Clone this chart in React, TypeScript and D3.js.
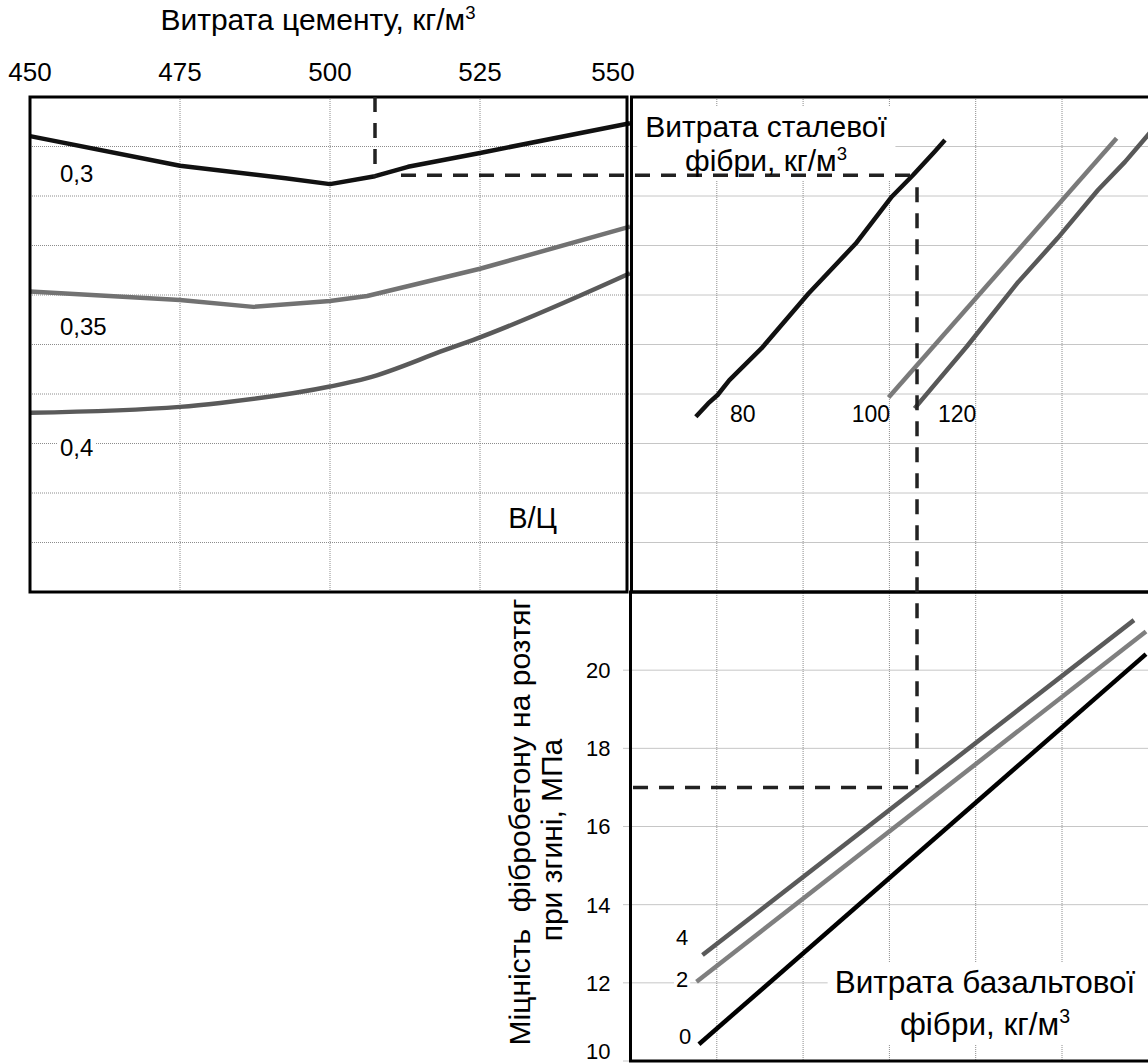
import { useEffect, useRef } from "react";
import * as d3 from "d3";

const W = 1148;
const H = 1064;
const font = "'Liberation Sans', Arial, Helvetica, sans-serif";

// top left: cement consumption, curves for W/C ratio
const cementTicks = [450, 475, 500, 525, 550];
const levelGrid = [1, 2, 3, 4, 5, 6, 7, 8, 9];
const wcNames = ["0,3", "0,35", "0,4"];
const wc030 = [[450, 9.21], [475, 8.61], [492.6, 8.36], [500, 8.24], [507.5, 8.4], [513, 8.59], [525, 8.87], [550, 9.47]];
const wc035 = [[450, 6.07], [475, 5.9], [487.2, 5.76], [500, 5.88], [506.2, 5.98], [525, 6.53], [550, 7.38]];
const wc040 = [[450, 3.62], [475, 3.74], [481.7, 3.82], [500, 4.15], [506.2, 4.32], [519.2, 4.89], [523.8, 5.09], [550, 6.44]];
const wcLabelAt = [[455, 8.29], [455, 5.19], [455, 2.74]];

// top right: steel fibre consumption
const mixGrid = [1, 2, 3, 4, 5];
const steelNames = ["80", "100", "120"];
const steel80 = [[0.757, 3.54], [0.9, 3.81], [1.009, 3.98], [1.146, 4.28], [1.517, 4.92], [2.063, 6.03], [2.61, 7.04], [3.03, 7.99], [3.272, 8.42], [3.526, 8.9], [3.644, 9.13]];
const steel100 = [[2.99, 3.93], [5.633, 9.166]];
const steel120 = [[3.292, 3.71], [3.897, 4.96], [4.482, 6.24], [4.95, 7.15], [5.417, 8.12], [5.73, 8.69], [6.02, 9.28]];
const steelLabelAt = [[1.153, 3.43], [2.563, 3.43], [3.563, 3.43]];

// bottom right: basalt fibre consumption, strength
const strengthTicks = [10, 12, 14, 16, 18, 20];
const basaltNames = ["4", "2", "0"];
const basalt4 = [[0.834, 12.71], [5.834, 21.28]];
const basalt2 = [[0.765, 12.03], [5.973, 20.99]];
const basalt0 = [[0.793, 10.43], [5.973, 20.41]];
const basaltLabelAt = [[0.527, 12.97], [0.527, 11.89], [0.562, 10.43]];

// worked example (dashed)
const selCement = 507.5;
const selLevel = 8.42;
const selMixTop = 3.27;
const selMix = 3.32;
const selStrength = 17;

const App = () => {
  const svgRef = useRef<SVGSVGElement | null>(null);

  useEffect(() => {
    const svg = d3.select(svgRef.current);
    svg.selectAll("*").remove();

    const xC = d3.scaleLinear().domain([450, 550]).range([30, 630]);
    const yL = d3.scaleLinear().domain([0, 10]).range([592, 97]);
    const xM = d3.scaleLinear().domain([0, 6]).range([630.5, 1148.3]);
    const yS = d3.scaleLinear().domain([10, 22]).range([1061, 592]);

    const gGrid = svg.append("g");
    const gBox = svg.append("g").attr("fill", "#fff");
    const gCurves = svg.append("g").attr("fill", "none").attr("stroke-width", 4.5).attr("stroke-linejoin", "round");
    const gFrame = svg.append("g").attr("fill", "none").attr("stroke", "#000").attr("stroke-width", 3);
    const gDash = svg.append("g").attr("fill", "none").attr("stroke", "#222").attr("stroke-width", 3.5).attr("stroke-dasharray", "15,11");
    const gText = svg.append("g").attr("font-family", font).attr("fill", "#000");

    const gridLine = (x1: number, y1: number, x2: number, y2: number) =>
      gGrid
        .append("line")
        .attr("x1", x1)
        .attr("y1", y1)
        .attr("x2", x2)
        .attr("y2", y2)
        .attr("stroke", "#8c8c8c")
        .attr("stroke-width", 1)
        .attr("stroke-dasharray", "1,1");

    // grids
    cementTicks.slice(1, -1).forEach((v) => gridLine(xC(v), yL(10), xC(v), yL(0)));
    levelGrid.forEach((v) => gridLine(xC(450), yL(v), xC(550), yL(v)));
    levelGrid.forEach((v) => gridLine(xM(0), yL(v), xM(6), yL(v)));
    mixGrid.forEach((v) => gridLine(xM(v), yL(10), xM(v), yS(10)));
    strengthTicks.forEach((v) => gridLine(xM(0) - 7, yS(v), xM(6), yS(v)));

    // curves
    const lineC = d3.line<number[]>().x((d) => xC(d[0])).y((d) => yL(d[1]));
    const lineCs = d3.line<number[]>().x((d) => xC(d[0])).y((d) => yL(d[1])).curve(d3.curveMonotoneX);
    const lineM = d3.line<number[]>().x((d) => xM(d[0])).y((d) => yL(d[1]));
    const lineS = d3.line<number[]>().x((d) => xM(d[0])).y((d) => yS(d[1]));

    gCurves.append("path").attr("d", lineC(wc030)).attr("stroke", "#111");
    gCurves.append("path").attr("d", lineC(wc035)).attr("stroke", "#727272");
    gCurves.append("path").attr("d", lineCs(wc040)).attr("stroke", "#5a5a5a");

    gCurves.append("path").attr("d", lineM(steel80)).attr("stroke", "#111");
    gCurves.append("path").attr("d", lineM(steel100)).attr("stroke", "#7a7a7a");
    gCurves.append("path").attr("d", lineM(steel120)).attr("stroke", "#585858");

    gCurves.append("path").attr("d", lineS(basalt4)).attr("stroke", "#5a5a5a");
    gCurves.append("path").attr("d", lineS(basalt2)).attr("stroke", "#7f7f7f");
    gCurves.append("path").attr("d", lineS(basalt0)).attr("stroke", "#000");

    // frames
    gFrame
      .append("rect")
      .attr("x", xC(450))
      .attr("y", yL(10))
      .attr("width", xC(550) - xC(450) - 3)
      .attr("height", yL(0) - yL(10));
    gFrame
      .append("rect")
      .attr("x", xM(0) + 1)
      .attr("y", yL(10))
      .attr("width", xM(6) - xM(0) + 4)
      .attr("height", yL(0) - yL(10));
    gFrame
      .append("rect")
      .attr("x", xM(0))
      .attr("y", yS(22))
      .attr("width", xM(6) - xM(0) + 4)
      .attr("height", yS(10) - yS(22));

    // dashed construction
    gDash.append("line").attr("x1", xC(selCement)).attr("y1", yL(10)).attr("x2", xC(selCement)).attr("y2", yL(selLevel - 0.04));
    gDash.append("line").attr("x1", xC(selCement) + 26).attr("y1", yL(selLevel)).attr("x2", xM(selMixTop)).attr("y2", yL(selLevel));
    gDash.append("line").attr("x1", xM(selMix)).attr("y1", yL(selLevel) + 12).attr("x2", xM(selMix)).attr("y2", yS(selStrength));
    gDash.append("line").attr("x1", xM(selMix) - 9).attr("y1", yS(selStrength)).attr("x2", xM(0)).attr("y2", yS(selStrength));

    // text helpers
    const addText = (x: number, y: number, s: string, size: number, anchor = "start", sup = false) => {
      const t = gText
        .append("text")
        .attr("x", x)
        .attr("y", y)
        .attr("font-size", size)
        .attr("text-anchor", anchor)
        .text(s);
      if (sup) t.append("tspan").attr("font-size", size * 0.62).attr("dy", -size * 0.38).text("3");
      return t;
    };
    const boxFor = (nodes: d3.Selection<SVGTextElement, unknown, null, undefined>[], px: number, py: number, extendRight = 0) => {
      const bs = nodes.map((n) => (n.node() as SVGTextElement).getBBox());
      const x0 = d3.min(bs, (b) => b.x)! - px;
      const x1 = d3.max(bs, (b) => b.x + b.width)! + px + extendRight;
      const y0 = d3.min(bs, (b) => b.y)! - py;
      const y1 = d3.max(bs, (b) => b.y + b.height)! + py;
      gBox.append("rect").attr("x", x0).attr("y", y0).attr("width", x1 - x0).attr("height", y1 - y0);
    };

    // top title and ticks
    addText(318, 30, "Витрата цементу, кг/м", 30, "middle", true);
    cementTicks.forEach((v) => {
      addText(Math.min(Math.max(xC(v), 27), 613), 81, String(v), 26, "middle");
    });

    // W/C labels
    wcNames.forEach((n, i) => {
      const t = addText(xC(wcLabelAt[i][0]), yL(wcLabelAt[i][1]), n, 24);
      boxFor([t], 2, 0);
    });
    addText(xC(529.7), yL(1.3), "В/Ц", 29);

    // steel title and labels
    const s1 = addText(766, 137, "Витрата сталевої", 30, "middle");
    const s2 = addText(766, 171, "фібри, кг/м", 30, "middle", true);
    boxFor([s1, s2], 8, 4);
    steelNames.forEach((n, i) => {
      addText(xM(steelLabelAt[i][0]), yL(steelLabelAt[i][1]), n, 23);
    });

    // basalt title and labels
    const b1 = addText(985, 993, "Витрата базальтової", 31.5, "middle");
    const b2 = addText(985, 1035, "фібри, кг/м", 31.5, "middle", true);
    boxFor([b1, b2], 7, 2, 30);
    basaltNames.forEach((n, i) => {
      const t = addText(xM(basaltLabelAt[i][0]), yS(basaltLabelAt[i][1]), n, 22);
      boxFor([t], 2, 0);
    });

    // strength ticks
    strengthTicks.forEach((v) => {
      addText(xM(0) - 20, Math.min(yS(v), H - 13), String(v), 22, "end").attr("dy", "0.36em");
    });

    // y axis title
    gText
      .append("text")
      .attr("transform", `translate(530, 822) rotate(-90)`)
      .attr("text-anchor", "middle")
      .attr("font-size", 30)
      .text("Міцність\u00a0 фібробетону на розтяг");
    gText
      .append("text")
      .attr("transform", `translate(562, 840) rotate(-90)`)
      .attr("text-anchor", "middle")
      .attr("font-size", 30)
      .text("при згині, МПа");
  }, []);

  return (
    <svg
      ref={svgRef}
      width={W}
      height={H}
      style={{ position: "absolute", left: 0, top: 0, background: "#fff" }}
    />
  );
};

export default App;
